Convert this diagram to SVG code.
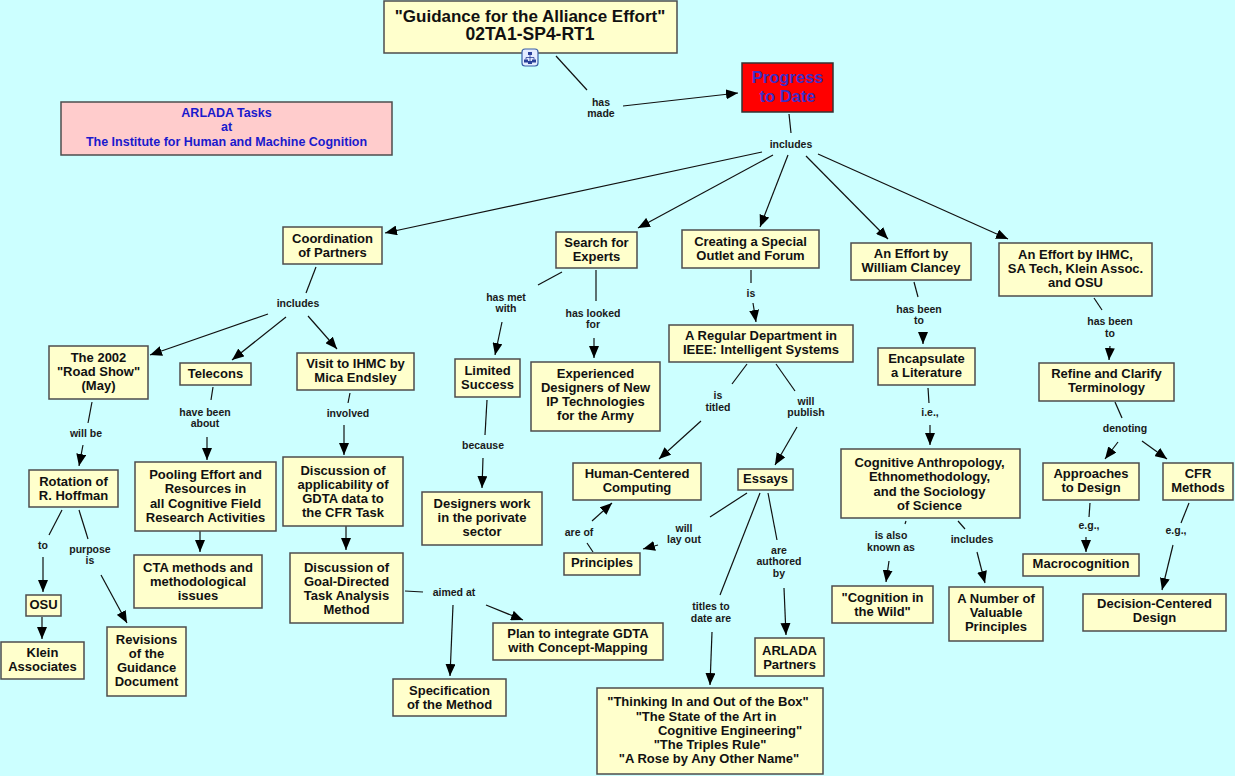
<svg xmlns="http://www.w3.org/2000/svg" width="1235" height="776" viewBox="0 0 1235 776">
<defs>
<marker id="arr" markerUnits="userSpaceOnUse" markerWidth="12" markerHeight="10" refX="12" refY="5" orient="auto" viewBox="0 0 12 10">
<path d="M0,0 L12,5 L0,10 z" fill="#000"/>
</marker>
</defs>
<style>
.n rect{fill:#FFFFCC;stroke:#4d4d4d;stroke-width:1.5}
.n text{font-family:"Liberation Sans",Arial,sans-serif;font-weight:bold;font-size:13px;fill:#111;text-anchor:middle}
.l text{font-family:"Liberation Sans",Arial,sans-serif;font-weight:bold;font-size:10.5px;fill:#1a1a1a;text-anchor:middle}
#connectors line{stroke:#111;stroke-width:1.2;fill:none}
#connectors line.a{marker-end:url(#arr)}
</style>
<rect x="0" y="0" width="1235" height="776" fill="#CCFFFF"/>

<g id="connectors">
<line x1="556" y1="56" x2="587" y2="90"/>
<line x1="789" y1="114" x2="791" y2="133"/>
<line x1="316" y1="267" x2="306" y2="293"/>
<line x1="92" y1="402" x2="88" y2="423"/>
<line x1="213" y1="387" x2="211" y2="400"/>
<line x1="350" y1="393" x2="348" y2="403"/>
<line x1="62" y1="510" x2="49" y2="535"/>
<line x1="79" y1="510" x2="88" y2="539"/>
<line x1="405" y1="591" x2="423" y2="592"/>
<line x1="562" y1="272" x2="538" y2="285"/>
<line x1="596" y1="270" x2="596" y2="301"/>
<line x1="487" y1="400" x2="485" y2="435"/>
<line x1="751" y1="270" x2="751" y2="283"/>
<line x1="747" y1="364" x2="732" y2="384"/>
<line x1="776" y1="364" x2="795" y2="391"/>
<line x1="593" y1="552" x2="587" y2="543"/>
<line x1="747" y1="493" x2="710" y2="517"/>
<line x1="760" y1="493" x2="720" y2="595"/>
<line x1="768" y1="493" x2="777" y2="540"/>
<line x1="914" y1="282" x2="918" y2="297"/>
<line x1="1094" y1="298" x2="1102" y2="310"/>
<line x1="928" y1="388" x2="929" y2="403"/>
<line x1="906" y1="521" x2="905" y2="524"/>
<line x1="958" y1="521" x2="965" y2="529"/>
<line x1="1115" y1="402" x2="1122" y2="418"/>
<line x1="1090" y1="503" x2="1089" y2="517"/>
<line x1="1189" y1="503" x2="1181" y2="523"/>

<line class="a" x1="623" y1="106" x2="738" y2="93"/>
<line class="a" x1="762" y1="152" x2="385" y2="233"/>
<line class="a" x1="773" y1="155" x2="638" y2="228"/>
<line class="a" x1="788" y1="155" x2="760" y2="227"/>
<line class="a" x1="806" y1="156" x2="888" y2="239"/>
<line class="a" x1="818" y1="154" x2="1008" y2="239"/>
<line class="a" x1="268" y1="314" x2="150" y2="355"/>
<line class="a" x1="286" y1="317" x2="232" y2="360"/>
<line class="a" x1="308" y1="316" x2="337" y2="349"/>
<line class="a" x1="83" y1="445" x2="79" y2="466"/>
<line class="a" x1="207" y1="437" x2="207" y2="460"/>
<line class="a" x1="344" y1="425" x2="344" y2="455"/>
<line class="a" x1="43" y1="557" x2="43" y2="592"/>
<line class="a" x1="101" y1="575" x2="127" y2="623"/>
<line class="a" x1="42" y1="617" x2="42" y2="639"/>
<line class="a" x1="200" y1="531" x2="200" y2="552"/>
<line class="a" x1="346" y1="526" x2="346" y2="550"/>
<line class="a" x1="453" y1="605" x2="450" y2="676"/>
<line class="a" x1="486" y1="605" x2="523" y2="620"/>
<line class="a" x1="502" y1="322" x2="495" y2="355"/>
<line class="a" x1="594" y1="338" x2="594" y2="358"/>
<line class="a" x1="483" y1="458" x2="482" y2="488"/>
<line class="a" x1="753" y1="303" x2="756" y2="322"/>
<line class="a" x1="701" y1="421" x2="659" y2="459"/>
<line class="a" x1="797" y1="427" x2="775" y2="465"/>
<line class="a" x1="592" y1="521" x2="612" y2="503"/>
<line class="a" x1="658" y1="545" x2="643" y2="549"/>
<line class="a" x1="712" y1="632" x2="710" y2="685"/>
<line class="a" x1="784" y1="588" x2="786" y2="635"/>
<line class="a" x1="923" y1="332" x2="923" y2="344"/>
<line class="a" x1="1110" y1="346" x2="1109" y2="360"/>
<line class="a" x1="930" y1="425" x2="930" y2="445"/>
<line class="a" x1="889" y1="561" x2="886" y2="582"/>
<line class="a" x1="977" y1="552" x2="985" y2="583"/>
<line class="a" x1="1118" y1="442" x2="1105" y2="459"/>
<line class="a" x1="1142" y1="441" x2="1167" y2="459"/>
<line class="a" x1="1086" y1="537" x2="1086" y2="552"/>
<line class="a" x1="1173" y1="545" x2="1162" y2="590"/>
</g>

<g id="link-labels" class="l">
<text x="601" y="106">has</text><text x="601" y="117">made</text>
<text x="791" y="148">includes</text>
<text x="298" y="307">includes</text>
<text x="86" y="437">will be</text>
<text x="205" y="416">have been</text><text x="205" y="427">about</text>
<text x="348" y="417">involved</text>
<text x="43" y="549">to</text>
<text x="90" y="553">purpose</text><text x="90" y="564">is</text>
<text x="454" y="596">aimed at</text>
<text x="506" y="301">has met</text><text x="506" y="312">with</text>
<text x="593" y="317">has looked</text><text x="593" y="328">for</text>
<text x="483" y="449">because</text>
<text x="751" y="297">is</text>
<text x="718" y="399">is</text><text x="718" y="411">titled</text>
<text x="806" y="405">will</text><text x="806" y="416">publish</text>
<text x="579" y="536">are of</text>
<text x="684" y="532">will</text><text x="684" y="543">lay out</text>
<text x="711" y="610">titles to</text><text x="711" y="622">date are</text>
<text x="779" y="554">are</text><text x="779" y="565">authored</text><text x="779" y="577">by</text>
<text x="919" y="313">has been</text><text x="919" y="324">to</text>
<text x="1110" y="325">has been</text><text x="1110" y="337">to</text>
<text x="930" y="416">i.e.,</text>
<text x="891" y="539">is also</text><text x="891" y="551">known as</text>
<text x="972" y="543">includes</text>
<text x="1125" y="432">denoting</text>
<text x="1089" y="529">e.g.,</text>
<text x="1176" y="534">e.g.,</text>
</g>

<g id="node-title" class="n">
<rect x="384" y="1" width="293" height="52"/>
<text x="530" y="22" style="font-size:17px">"Guidance for the Alliance Effort"</text>
<text x="530" y="40" style="font-size:17.5px">02TA1-SP4-RT1</text>
</g>
<g id="icon-submap">
<rect x="522" y="49" width="16" height="17" rx="3" fill="#e4ecff" stroke="#3a5fa8" stroke-width="1.2"/>
<rect x="528" y="52" width="4" height="3" fill="#2a3f99"/>
<path d="M530,55 V57.5 M526,57.5 H534 M526,57.5 V59.5 M534,57.5 V59.5 M530,57.5 V61" stroke="#2a3f99" stroke-width="0.8" fill="none"/>
<rect x="524" y="59.5" width="4" height="3" fill="#2a3f99"/>
<rect x="532" y="59.5" width="4" height="3" fill="#2a3f99"/>
<rect x="528" y="61" width="4" height="3" fill="#2a3f99"/>
</g>
<g id="node-progress" class="n">
<rect x="742" y="63" width="91" height="49" style="fill:#FF0000;stroke:#333"/>
<text x="787.5" y="83" style="font-size:16.5px;fill:#3d2ec4">Progress</text>
<text x="787.5" y="102" style="font-size:16.5px;fill:#3d2ec4">to Date</text>
</g>
<g id="node-arlada" class="n">
<rect x="61" y="102" width="331" height="53" style="fill:#FFCCCC"/>
<text x="226.5" y="117" style="font-size:12.5px;fill:#1a1acc">ARLADA Tasks</text>
<text x="226.5" y="131" style="font-size:12.5px;fill:#1a1acc">at</text>
<text x="226.5" y="146" style="font-size:12.5px;fill:#1a1acc">The Institute for Human and Machine Cognition</text>
</g>
<g id="node-coordination" class="n">
<rect x="283" y="227" width="99" height="37"/>
<text x="332.5" y="243">Coordination</text><text x="332.5" y="257">of Partners</text>
</g>
<g id="node-search" class="n">
<rect x="556" y="232" width="81" height="36"/>
<text x="596.5" y="247">Search for</text><text x="596.5" y="261">Experts</text>
</g>
<g id="node-creating" class="n">
<rect x="682" y="230" width="137" height="38"/>
<text x="750.5" y="246">Creating a Special</text><text x="750.5" y="260">Outlet and Forum</text>
</g>
<g id="node-clancey" class="n">
<rect x="851" y="243" width="120" height="37"/>
<text x="911" y="258">An Effort by</text><text x="911" y="272">William Clancey</text>
</g>
<g id="node-ihmc" class="n">
<rect x="999" y="243" width="153" height="53"/>
<text x="1075.5" y="259">An Effort by IHMC,</text><text x="1075.5" y="273">SA Tech, Klein Assoc.</text><text x="1075.5" y="287">and OSU</text>
</g>
<g id="node-roadshow" class="n">
<rect x="49" y="346" width="99" height="53"/>
<text x="98.5" y="362">The 2002</text><text x="98.5" y="376">"Road Show"</text><text x="98.5" y="390">(May)</text>
</g>
<g id="node-telecons" class="n">
<rect x="180" y="363" width="71" height="22"/>
<text x="215.5" y="378">Telecons</text>
</g>
<g id="node-visit" class="n">
<rect x="297" y="353" width="117" height="37"/>
<text x="355.5" y="368">Visit to IHMC by</text><text x="355.5" y="382">Mica Endsley</text>
</g>
<g id="node-rotation" class="n">
<rect x="29" y="470" width="89" height="37"/>
<text x="73.5" y="486">Rotation of</text><text x="73.5" y="500">R. Hoffman</text>
</g>
<g id="node-pooling" class="n">
<rect x="135" y="462" width="141" height="69"/>
<text x="205.5" y="479">Pooling Effort and</text><text x="205.5" y="493">Resources in</text><text x="205.5" y="508">all Cognitive Field</text><text x="205.5" y="522">Research Activities</text>
</g>
<g id="node-applicability" class="n">
<rect x="283" y="457" width="120" height="69"/>
<text x="343" y="475">Discussion of</text><text x="343" y="489">applicability of</text><text x="343" y="503">GDTA data to</text><text x="343" y="517">the CFR Task</text>
</g>
<g id="node-osu" class="n">
<rect x="26" y="595" width="35" height="21"/>
<text x="43.5" y="609">OSU</text>
</g>
<g id="node-klein" class="n">
<rect x="1" y="642" width="83" height="37"/>
<text x="42.5" y="657">Klein</text><text x="42.5" y="671">Associates</text>
</g>
<g id="node-revisions" class="n">
<rect x="107" y="627" width="79" height="69"/>
<text x="146.5" y="644">Revisions</text><text x="146.5" y="658">of the</text><text x="146.5" y="672">Guidance</text><text x="146.5" y="686">Document</text>
</g>
<g id="node-cta" class="n">
<rect x="134" y="555" width="128" height="53"/>
<text x="198" y="572">CTA methods and</text><text x="198" y="586">methodological</text><text x="198" y="600">issues</text>
</g>
<g id="node-gdta" class="n">
<rect x="290" y="553" width="113" height="70"/>
<text x="346.5" y="572">Discussion of</text><text x="346.5" y="586">Goal-Directed</text><text x="346.5" y="600">Task Analysis</text><text x="346.5" y="614">Method</text>
</g>
<g id="node-specification" class="n">
<rect x="393" y="679" width="113" height="37"/>
<text x="449.5" y="695">Specification</text><text x="449.5" y="709">of the Method</text>
</g>
<g id="node-plan" class="n">
<rect x="493" y="623" width="170" height="37"/>
<text x="578" y="638">Plan to integrate GDTA</text><text x="578" y="652">with Concept-Mapping</text>
</g>
<g id="node-limited" class="n">
<rect x="455" y="359" width="65" height="38"/>
<text x="487.5" y="375">Limited</text><text x="487.5" y="389">Success</text>
</g>
<g id="node-experienced" class="n">
<rect x="531" y="362" width="129" height="69"/>
<text x="595.5" y="378">Experienced</text><text x="595.5" y="392">Designers of New</text><text x="595.5" y="406">IP Technologies</text><text x="595.5" y="420">for the Army</text>
</g>
<g id="node-designers" class="n">
<rect x="422" y="492" width="120" height="53"/>
<text x="482" y="508">Designers work</text><text x="482" y="522">in the porivate</text><text x="482" y="536">sector</text>
</g>
<g id="node-regular" class="n">
<rect x="669" y="325" width="184" height="37"/>
<text x="761" y="340">A Regular Department in</text><text x="761" y="354">IEEE: Intelligent Systems</text>
</g>
<g id="node-human" class="n">
<rect x="573" y="463" width="128" height="37"/>
<text x="637" y="478">Human-Centered</text><text x="637" y="492">Computing</text>
</g>
<g id="node-essays" class="n">
<rect x="738" y="469" width="55" height="21"/>
<text x="765.5" y="483">Essays</text>
</g>
<g id="node-principles" class="n">
<rect x="564" y="553" width="76" height="22"/>
<text x="602" y="567">Principles</text>
</g>
<g id="node-partners" class="n">
<rect x="755" y="638" width="69" height="38"/>
<text x="789.5" y="655">ARLADA</text><text x="789.5" y="669">Partners</text>
</g>
<g id="node-titles" class="n">
<rect x="597" y="688" width="226" height="86"/>
<text x="708" y="706">"Thinking In and Out of the Box"</text>
<text x="706" y="721">"The State of the Art in</text>
<text x="730" y="735">Cognitive Engineering"</text>
<text x="710" y="749">"The Triples Rule"</text>
<text x="709" y="763">"A Rose by Any Other Name"</text>
</g>
<g id="node-encapsulate" class="n">
<rect x="878" y="348" width="97" height="37"/>
<text x="926.5" y="363">Encapsulate</text><text x="926.5" y="377">a Literature</text>
</g>
<g id="node-refine" class="n">
<rect x="1039" y="363" width="135" height="38"/>
<text x="1106.5" y="378">Refine and Clarify</text><text x="1106.5" y="392">Terminology</text>
</g>
<g id="node-cognitive" class="n">
<rect x="841" y="449" width="179" height="69"/>
<text x="929.5" y="467">Cognitive Anthropology,</text><text x="929.5" y="481">Ethnomethodology,</text><text x="929.5" y="496">and the Sociology</text><text x="929.5" y="510">of Science</text>
</g>
<g id="node-wild" class="n">
<rect x="832" y="586" width="101" height="37"/>
<text x="882.5" y="602">"Cognition in</text><text x="882.5" y="616">the Wild"</text>
</g>
<g id="node-number" class="n">
<rect x="949" y="587" width="94" height="54"/>
<text x="996" y="603">A Number of</text><text x="996" y="617">Valuable</text><text x="996" y="631">Principles</text>
</g>
<g id="node-approaches" class="n">
<rect x="1043" y="463" width="96" height="37"/>
<text x="1091" y="478">Approaches</text><text x="1091" y="492">to Design</text>
</g>
<g id="node-cfr" class="n">
<rect x="1163" y="463" width="70" height="37"/>
<text x="1198" y="478">CFR</text><text x="1198" y="492">Methods</text>
</g>
<g id="node-macro" class="n">
<rect x="1023" y="554" width="116" height="22"/>
<text x="1081" y="568">Macrocognition</text>
</g>
<g id="node-decision" class="n">
<rect x="1083" y="594" width="143" height="37"/>
<text x="1154.5" y="608">Decision-Centered</text><text x="1154.5" y="622">Design</text>
</g>
</svg>
